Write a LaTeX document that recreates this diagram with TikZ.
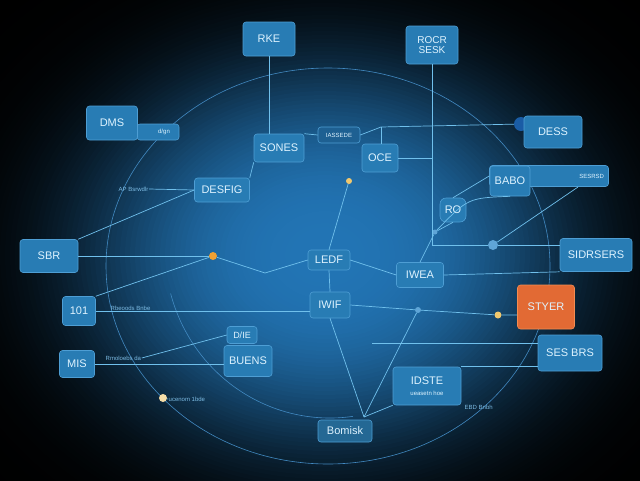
\documentclass[tikz,border=0pt]{standalone}
\usepackage{fontspec}
\setmainfont{Liberation Sans}
\definecolor{boxfill}{RGB}{40,124,180}
\definecolor{boxedge}{RGB}{78,158,212}
\definecolor{boxdark}{RGB}{30,96,146}
\definecolor{txt}{RGB}{222,243,255}
\definecolor{wirec}{RGB}{112,192,236}
\definecolor{ringc}{RGB}{66,138,194}
\definecolor{orangefill}{RGB}{226,106,52}
\definecolor{orangeedge}{RGB}{242,140,82}
\definecolor{tinyc}{RGB}{125,188,228}
\definecolor{odot}{RGB}{240,160,50}
\definecolor{ydot}{RGB}{240,200,110}
\definecolor{bdot}{RGB}{95,165,215}
\definecolor{blobc}{RGB}{26,92,165}
\definecolor{teal}{RGB}{36,104,148}
\definecolor{bgA}{RGB}{34,116,180}
\tikzset{
  box/.style={draw=boxedge, fill=boxfill, rounded corners=3pt, text=txt, line width=0.6pt,
    inner sep=1pt, font=\fontsize{11}{12}\selectfont, align=center},
  sz/.style 2 args={minimum width=#1pt, minimum height=#2pt},
  tinybox/.style={box, fill=boxdark, font=\fontsize{6}{7}\selectfont},
  orangebox/.style={box, fill=orangefill, draw=orangeedge},
  wire/.style={draw=wirec, line width=0.7pt},
  ring/.style={draw=ringc, line width=0.6pt},
  tinytxt/.style={text=tinyc, font=\fontsize{6}{7}\selectfont, inner sep=0.5pt},
  blob/.style={circle, inner sep=0pt, minimum size=#1, draw=none},
}
\begin{document}
\begin{tikzpicture}[x=1pt,y=-1pt]
\useasboundingbox (0,0) rectangle (640,480);
\begin{scope}
\clip (0,0) rectangle (640,480);
\fill[black] (0,0) rectangle (640,480);
\foreach \r in {440,435,...,5} {
  \pgfmathsetmacro\f{100*exp(-(\r/240)^3)}
  \fill[bgA!\f!black] (325,255) ellipse [x radius=\r, y radius=0.8*\r];
}
\end{scope}
% rings
\draw[ring] (328,266) ellipse [x radius=222, y radius=198];
\draw[ring] (330,250) ++(165:165 and 168) arc[start angle=165, end angle=82, x radius=165, y radius=168];

% nodes
\node[box, sz={52}{34}] (rke) at (269,39) {RKE};
\node[box, sz={52}{38}, font=\fontsize{10}{10.5}\selectfont] (rocr) at (432,45) {ROCR\\SESK};
\node[box, sz={42}{16}, font=\fontsize{6}{7}\selectfont] (dmstab) at (158,132) {\hspace*{12pt}d/gn};
\node[box, sz={51}{34}] (dms) at (112,123) {DMS};
\node[box, sz={50}{28}] (sones) at (279,148) {SONES};
\node[tinybox, sz={42}{16}] (assede) at (339,135) {IASSEDE};
\node[box, sz={36}{28}] (oce) at (380,158) {OCE};
\node[blob=14pt, fill=blobc] (dblob) at (521,124) {};
\node[box, sz={58}{32}] (dess) at (553,132) {DESS};
\node[box, sz={55}{24}] (desfig) at (222,190) {DESFIG};
\node[tinytxt, anchor=west] (apt) at (118,189) {AP Bsrwdlr};
\node[box, sz={119}{21}, font=\fontsize{6}{7}\selectfont, text width=110pt, align=right] (bar) at (549,176) {SESRSD};
\node[box, sz={40}{30}] (babo) at (510,181) {BABO};
\node[box, sz={26}{24}, rounded corners=6pt] (ro) at (453,210) {RO};
\node[box, sz={58}{33}] (sbr) at (49,256) {SBR};
\node[box, sz={72}{33}] (sidr) at (596,255) {SIDRSERS};
\node[box, sz={42}{20}] (ledf) at (329,260) {LEDF};
\node[box, sz={47}{25}] (iwea) at (420,275) {IWEA};
\node[box, sz={40}{26}] (iwif) at (330,305) {IWIF};
\node[orangebox, sz={57}{44}] (styer) at (546,307) {STYER};
\node[box, sz={33}{29}] (n101) at (79,311) {101};
\node[tinytxt, anchor=west] (rbe) at (110,308) {Rbeoods Bnbe};
\node[box, sz={30}{17}, font=\fontsize{9}{10}\selectfont] (die) at (242,335) {D/IE};
\node[box, sz={48}{31}] (buens) at (248,361) {BUENS};
\node[box, sz={35}{27}] (mis) at (77,364) {MIS};
\node[tinytxt, anchor=west] (rmol) at (105,358) {Rmoloebs da};
\node[box, sz={64}{36}] (sesbrs) at (570,353) {SES BRS};
\node[box, sz={68}{38}] (idste) at (427,386) {IDSTE\\[-1pt]{\fontsize{6}{7}\selectfont ueasetn hoe}};
\node[tinytxt, anchor=west] (ebd) at (464,407) {EBD Bnbh};
\node[box, sz={54}{22}, fill=teal] (bomisk) at (345,431) {Bomisk};
\node[blob=8pt, fill=ydot!60!white] (yd3) at (163,398) {};
\node[tinytxt, anchor=west] (ucen) at (168,399) {ucenom 1bde};

% dots
\node[blob=8pt, fill=odot] (od) at (213,256) {};
\node[blob=6pt, fill=ydot] (yd1) at (349,181) {};
\node[blob=7pt, fill=ydot] (yd2) at (498,315) {};
\node[blob=10pt, fill=bdot] (bd) at (493,245) {};
\node[blob=5pt, fill=bdot] (sd1) at (435,232) {};
\node[blob=6pt, fill=bdot] (sd2) at (418,310) {};

% free ends
\coordinate (ca) at (381,127);
\coordinate (cb) at (578,187);
\coordinate (cl) at (265,273);
\coordinate (cbot) at (364,417);
\coordinate (c343) at (372,343);

% wires
\draw[wire] (rke.south) -- (rke.south |- sones.north);
\draw[wire] (rocr.south) |- (bd);
\draw[wire] (bd) -- (bd -| sidr.west);
\draw[wire] (bd) -- (cb);
\draw[wire] (sones.north east) -- (assede.west);
\draw[wire] (assede.east) -- (ca) -- (dblob);
\draw[wire] (ca) -- (ca |- oce.north);
\draw[wire] (oce.east) -- (oce.east -| rocr.south);
\draw[wire] (sones.south west) -- (desfig.north east);
\draw[wire] (desfig.west) -- (sbr.north east);
\draw[wire] (apt.east) -- (desfig.west);
\draw[wire] (sbr.east) -- (od);
\draw[wire] (n101.north east) -- (od);
\draw[wire] (od) -- (cl) -- (ledf.west);
\draw[wire] (n101.east) -- (n101.east -| iwif.west);
\draw[wire] (yd1) -- (ledf.north);
\draw[wire] (ledf.south) -- (iwif.north);
\draw[wire] (iwif.south) -- (cbot);
\draw[wire] (ledf.east) -- (iwea.west);
\draw[wire] (iwea.east) -- (sidr.south west);
\draw[wire] (iwif.east) -- (sd2) -- (yd2) -- (yd2 -| styer.west);
\draw[wire] (sd2) -- (cbot);
\draw[wire] (idste.south west) -- (cbot);
\draw[wire] (ro.south) -- (sd1) -- (iwea.north);
\draw[wire] (ro.north) -- (bar.west);
\draw[wire] (sd1) .. controls (468,198) .. (babo.south);
\draw[wire] (mis.east) -- (mis.east -| buens.west);
\draw[wire] (rmol.east) -- (die.west);
\draw[wire] (c343) -- (c343 -| sesbrs.west);
\draw[wire] (idste.north east) -- (idste.north east -| sesbrs.west);
\draw[wire] (yd3) -- (ucen.west);
\end{tikzpicture}
\end{document}
